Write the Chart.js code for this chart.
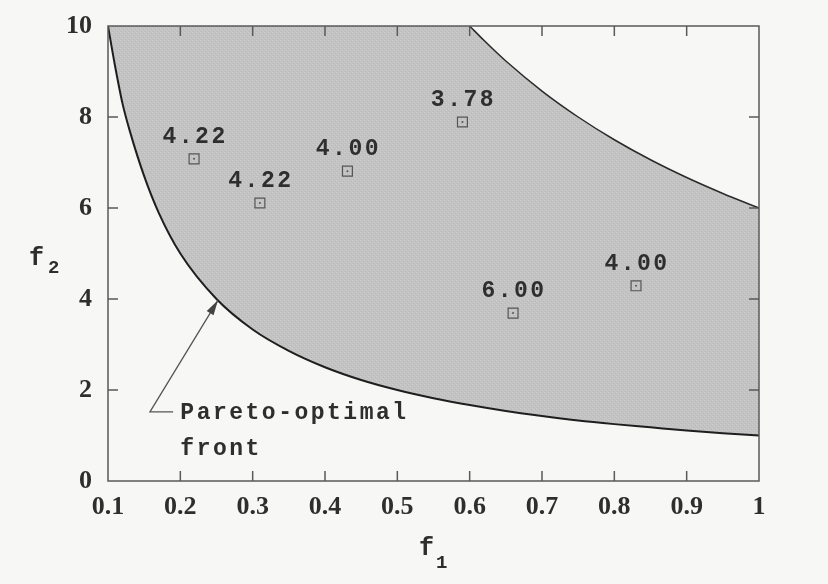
<!DOCTYPE html>
<html>
<head>
<meta charset="utf-8">
<script src="https://cdn.jsdelivr.net/npm/chart.js@4.4.1/dist/chart.umd.min.js"></script>
<style>
  html, body { margin: 0; padding: 0; background: #f7f7f6; }
  #wrap { width: 828px; height: 584px; }
</style>
</head>
<body>
<div id="wrap"><canvas id="grafico" width="828" height="584"></canvas></div>
<script>
// valores
const frenteF1 = [0.1, 0.11, 0.12, 0.13, 0.15, 0.17, 0.2, 0.25, 0.3, 0.35, 0.4, 0.45, 0.5, 0.55, 0.6, 0.65, 0.7, 0.75, 0.8, 0.85, 0.9, 0.95, 1];
const frenteF2 = [10, 9.1, 8.3, 7.7, 6.7, 5.9, 5.0, 4.0, 3.33, 2.86, 2.5, 2.22, 2.0, 1.82, 1.67, 1.54, 1.43, 1.33, 1.25, 1.18, 1.11, 1.05, 1.0];
const limiteF1 = [0.6, 0.62, 0.65, 0.7, 0.75, 0.8, 0.85, 0.9, 0.95, 1];
const limiteF2 = [10, 9.68, 9.23, 8.57, 8.0, 7.5, 7.06, 6.67, 6.32, 6.0];

const solF1 = [0.219, 0.310, 0.431, 0.590, 0.660, 0.830];
const solF2 = [7.08, 6.11, 6.81, 7.89, 3.69, 4.29];
const solRotulos = ["4.22", "4.22", "4.00", "3.78", "6.00", "4.00"];

const xTicks = [0.1, 0.2, 0.3, 0.4, 0.5, 0.6, 0.7, 0.8, 0.9, 1];
const xRotulos = ["0.1", "0.2", "0.3", "0.4", "0.5", "0.6", "0.7", "0.8", "0.9", "1"];
const yTicks = [0, 2, 4, 6, 8, 10];
const yRotulos = ["0", "2", "4", "6", "8", "10"];

const setaPontos = [[0.19, 1.52], [0.158, 1.52], [0.252, 3.97]];
const textoFrente = ["Pareto-optimal", "front"];

const pares = (xs, ys) => xs.map((x, i) => ({ x: x, y: ys[i] }));

const corFundo = "#f7f7f6";
const corTexto = "#2e2e2e";
const corEixo = "#5a5a5a";

// textura cinza da area sombreada
function criarTextura(ctx) {
    const c = document.createElement("canvas");
    c.width = 4; c.height = 4;
    const g = c.getContext("2d");
    g.fillStyle = "#c3c3c3";
    g.fillRect(0, 0, 4, 4);
    g.fillStyle = "#cdcdcd";
    g.fillRect(0, 0, 1, 1); g.fillRect(2, 2, 1, 1);
    g.fillStyle = "#b9b9b9";
    g.fillRect(1, 3, 1, 1); g.fillRect(3, 1, 1, 1);
    return ctx.createPattern(c, "repeat");
}

const canvas = document.getElementById("grafico");
const ctx = canvas.getContext("2d");
const textura = criarTextura(ctx);

const decoracao = {
    id: "decoracao",
    beforeDraw(chart) {
        const c = chart.ctx;
        c.save();
        c.fillStyle = corFundo;
        c.fillRect(0, 0, chart.width, chart.height);
        c.restore();
    },
    afterDatasetsDraw(chart) {
        const c = chart.ctx;
        const a = chart.chartArea;
        const xs = chart.scales.x, ys = chart.scales.y;
        c.save();

        // moldura e marcas internas
        c.strokeStyle = corEixo;
        c.lineWidth = 1.5;
        c.strokeRect(a.left, a.top, a.right - a.left, a.bottom - a.top);
        c.beginPath();
        xTicks.forEach(v => {
            const px = xs.getPixelForValue(v);
            if (v <= xs.min || v >= xs.max) return;
            c.moveTo(px, a.bottom); c.lineTo(px, a.bottom - 10);
            c.moveTo(px, a.top); c.lineTo(px, a.top + 10);
        });
        yTicks.forEach(v => {
            const py = ys.getPixelForValue(v);
            if (v <= ys.min || v >= ys.max) return;
            c.moveTo(a.left, py); c.lineTo(a.left + 10, py);
            c.moveTo(a.right, py); c.lineTo(a.right - 10, py);
        });
        c.stroke();

        // rotulos das solucoes
        c.fillStyle = corTexto;
        c.font = 'bold 23px "Liberation Mono"';
        c.letterSpacing = "2.5px";
        c.textAlign = "center";
        c.textBaseline = "middle";
        const meta = chart.getDatasetMeta(2);
        meta.data.forEach((p, i) => {
            c.fillText(solRotulos[i], p.x + 1, p.y - 22);
        });

        // seta da frente de Pareto
        const pts = setaPontos.map(p => [xs.getPixelForValue(p[0]), ys.getPixelForValue(p[1])]);
        c.strokeStyle = "#555";
        c.lineWidth = 1.3;
        c.beginPath();
        c.moveTo(pts[0][0], pts[0][1]);
        pts.slice(1).forEach(p => c.lineTo(p[0], p[1]));
        c.stroke();
        const [bx, by] = pts[1], [tx, ty] = pts[2];
        const ang = Math.atan2(ty - by, tx - bx);
        c.fillStyle = "#444";
        c.beginPath();
        c.moveTo(tx, ty);
        c.lineTo(tx - 15 * Math.cos(ang) + 4 * Math.sin(ang), ty - 15 * Math.sin(ang) - 4 * Math.cos(ang));
        c.lineTo(tx - 15 * Math.cos(ang) - 4 * Math.sin(ang), ty - 15 * Math.sin(ang) + 4 * Math.cos(ang));
        c.closePath();
        c.fill();

        c.fillStyle = corTexto;
        c.textAlign = "left";
        c.fillText(textoFrente[0], xs.getPixelForValue(0.2), ys.getPixelForValue(1.49));
        c.fillText(textoFrente[1], xs.getPixelForValue(0.2), ys.getPixelForValue(0.70));

        // titulos dos eixos (f1, f2)
        c.letterSpacing = "0px";
        c.textBaseline = "alphabetic";
        c.font = 'bold 25px "Liberation Mono"';
        const fx2 = a.left - 79, fy2 = ys.getPixelForValue(4.75);
        c.fillText("f", fx2, fy2);
        c.font = 'bold 19px "Liberation Mono"';
        c.fillText("2", fx2 + 19, fy2 + 8);

        const fx1 = xs.getPixelForValue(0.53), fy1 = a.bottom + 74;
        c.font = 'bold 25px "Liberation Mono"';
        c.fillText("f", fx1, fy1);
        c.font = 'bold 19px "Liberation Mono"';
        c.fillText("1", fx1 + 17, fy1 + 13);

        c.restore();
    }
};

const fonteTicks = { family: '"Liberation Serif", serif', size: 26, weight: "bold" };

new Chart(ctx, {
    type: "scatter",
    data: {
        datasets: [
            {
                // limite superior: apaga o que fica acima dele
                label: "limite",
                data: pares(limiteF1, limiteF2),
                showLine: true,
                borderColor: "#2a2a2a",
                borderWidth: 1.5,
                pointRadius: 0,
                cubicInterpolationMode: "monotone",
                fill: "end",
                backgroundColor: corFundo,
                order: 4
            },
            {
                label: "Pareto-optimal front",
                data: pares(frenteF1, frenteF2),
                showLine: true,
                borderColor: "#1e1e1e",
                borderWidth: 2,
                pointRadius: 0,
                cubicInterpolationMode: "monotone",
                fill: "end",
                backgroundColor: textura,
                order: 5
            },
            {
                label: "solucoes",
                data: pares(solF1, solF2),
                pointStyle: "rect",
                pointRadius: 7,
                pointBorderWidth: 1.2,
                pointBorderColor: "#555",
                pointBackgroundColor: "rgba(0,0,0,0)",
                order: 1
            },
            {
                label: "centros",
                data: pares(solF1, solF2),
                pointStyle: "circle",
                pointRadius: 1,
                pointBorderWidth: 0,
                pointBackgroundColor: "#555",
                order: 0
            }
        ]
    },
    options: {
        responsive: false,
        animation: false,
        layout: { padding: { top: 26, right: 69, left: 0, bottom: 0 } },
        plugins: {
            legend: { display: false },
            tooltip: { enabled: false },
            filler: { drawTime: "beforeDatasetsDraw" }
        },
        scales: {
            x: {
                type: "linear",
                min: 0.1,
                max: 1,
                afterBuildTicks: s => { s.ticks = xTicks.map(v => ({ value: v })); },
                afterFit: s => { s.height = 103; s.paddingLeft = 0; s.paddingRight = 0; },
                ticks: {
                    autoSkip: false,
                    maxRotation: 0,
                    padding: 11,
                    color: corTexto,
                    font: fonteTicks,
                    callback: v => xRotulos[xTicks.indexOf(v)]
                },
                grid: { display: false, drawTicks: false },
                border: { display: false }
            },
            y: {
                type: "linear",
                min: 0,
                max: 10,
                afterBuildTicks: s => { s.ticks = yTicks.map(v => ({ value: v })); },
                afterFit: s => { s.width = 108; s.paddingTop = 0; s.paddingBottom = 0; },
                ticks: {
                    autoSkip: false,
                    padding: 16,
                    color: corTexto,
                    font: fonteTicks,
                    callback: v => yRotulos[yTicks.indexOf(v)]
                },
                grid: { display: false, drawTicks: false },
                border: { display: false }
            }
        }
    },
    plugins: [decoracao]
});
</script>
</body>
</html>
